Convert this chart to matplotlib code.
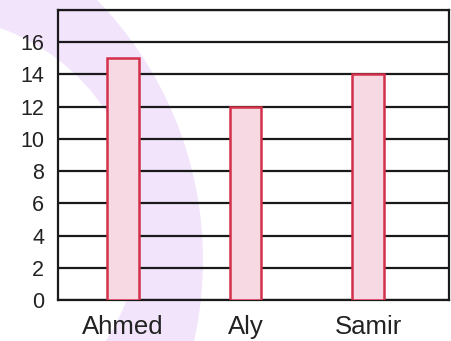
import matplotlib
matplotlib.use("Agg")
import matplotlib.pyplot as plt
from matplotlib.patches import Circle

names = ["Ahmed", "Aly", "Samir"]
scores = [15, 12, 14]
y_ticks = [0, 2, 4, 6, 8, 10, 12, 14, 16]

plt.rcParams["font.family"] = ["Liberation Sans", "DejaVu Sans"]

fig = plt.figure(figsize=(4.51, 3.41), dpi=100)
fig.patch.set_facecolor("white")

# lavender arc in the background (figure pixel coords, y from bottom)
W, H = 451, 341
outer = Circle((-169, H - 260), 372, transform=None, facecolor="#f1e4fb",
               edgecolor="none", zorder=0)
inner = Circle((-70, H - 226), 210, transform=None, facecolor="white",
               edgecolor="none", zorder=0)
fig.patches.extend([outer, inner])

ax = fig.add_axes([58 / W, 41 / H, 391 / W, 290 / H])
ax.set_zorder(1)
ax.patch.set_alpha(0)

x = range(len(names))
ax.bar(x, scores, width=0.26, color="#f7d9e3", edgecolor="#d3304b",
       linewidth=1.8, zorder=3)

for v in range(0, 19, 2):
    ax.axhline(v, color="#1a1a1a", linewidth=1.6, zorder=2)

ax.set_xlim(-0.53, 2.66)
ax.set_ylim(0, 18)
ax.set_yticks(y_ticks)
ax.set_yticklabels([str(t) for t in y_ticks], fontsize=15.5, color="#222222")
ax.set_xticks(list(x))
ax.set_xticklabels(names, fontsize=18.5, color="#222222")
ax.tick_params(axis="both", length=0)
ax.tick_params(axis="y", pad=10)
ax.tick_params(axis="x", pad=11)

for s in ax.spines.values():
    s.set_color("#1a1a1a")
    s.set_linewidth(1.6)

fig.savefig("out.png", dpi=100)
